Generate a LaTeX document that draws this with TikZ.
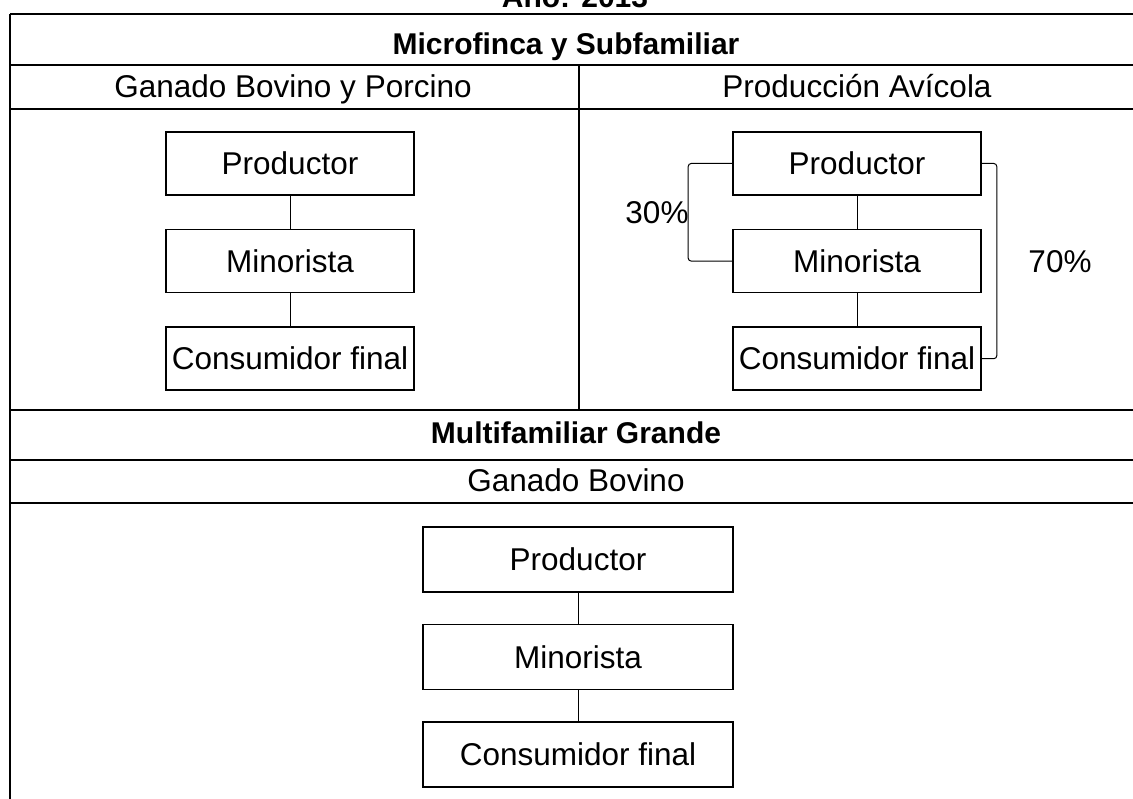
\documentclass[tikz,border=0pt]{standalone}
\usepackage{fontspec}
\setmainfont{Liberation Sans}
\usetikzlibrary{positioning}

\begin{document}
\begin{tikzpicture}[x=1pt, y=-1pt, node distance=33pt, every node/.style={align=center}]
    \tikzset{
      chainbox/.style={
        draw,
        line width=1.6pt,
        minimum width=248pt,
        minimum height=63pt,
        inner sep=0pt,
        font=\fontsize{31.5}{36}\selectfont
      },
      bigbox/.style={chainbox, minimum width=310pt, minimum height=65pt},
      headtext/.style={anchor=base, font=\fontsize{30}{34}\selectfont\bfseries},
      celltext/.style={anchor=base, font=\fontsize{31.5}{36}\selectfont},
      gridline/.style={line width=1.9pt},
      link/.style={line width=1pt, rounded corners=3pt}
    }
    \useasboundingbox (0,0) rectangle (1133,799);
    \clip (0,0) rectangle (1133,799);
    % table lines
    \draw[gridline] (10,14) -- (1150,14);
    \draw[gridline] (10,65) -- (1150,65);
    \draw[gridline] (10,109) -- (1150,109);
    \draw[gridline] (10,410) -- (1150,410);
    \draw[gridline] (10,460) -- (1150,460);
    \draw[gridline] (10,503) -- (1150,503);
    \draw[gridline] (10,14) -- (10,820);
    \draw[gridline] (579,65) -- (579,410);
    % headings
    \node[headtext] (year) at (575,8) {Año: 2013};
    \node[headtext] (micro) at (566,55) {Microfinca y Subfamiliar};
    \node[celltext] (bovpor) at (293,98) {Ganado Bovino y Porcino};
    \node[celltext] (avic) at (857,98) {Producción Avícola};
    \node[headtext] (multi) at (576,444) {Multifamiliar Grande};
    \node[celltext] (bovino) at (576,492) {Ganado Bovino};
    % bovino y porcino
    \node[chainbox] (prodA) at (290,163.5) {Productor};
    \node[chainbox, below=of prodA] (minA) {Minorista};
    \node[chainbox, below=of minA] (consA) {Consumidor final};
    \draw[link] (prodA) -- (minA);
    \draw[link] (minA) -- (consA);
    % avicola
    \node[chainbox] (prodB) at (857,163.5) {Productor};
    \node[chainbox, below=of prodB] (minB) {Minorista};
    \node[chainbox, below=of minB] (consB) {Consumidor final};
    \draw[link] (prodB) -- (minB);
    \draw[link] (minB) -- (consB);
    \draw[link] (prodB.west) -- ++(-44,0) |- (minB.west);
    \draw[link] (prodB.east) -- ++(15,0) |- (consB.east);
    \node[celltext] (pctlow) at (657,224) {30\%};
    \node[celltext] (pcthigh) at (1060,273) {70\%};
    % multifamiliar
    \node[bigbox] (prodC) at (578,559.5) {Productor};
    \node[bigbox, below=31pt of prodC] (minC) {Minorista};
    \node[bigbox, below=31pt of minC] (consC) {Consumidor final};
    \draw[link] (prodC) -- (minC);
    \draw[link] (minC) -- (consC);
\end{tikzpicture}
\end{document}
